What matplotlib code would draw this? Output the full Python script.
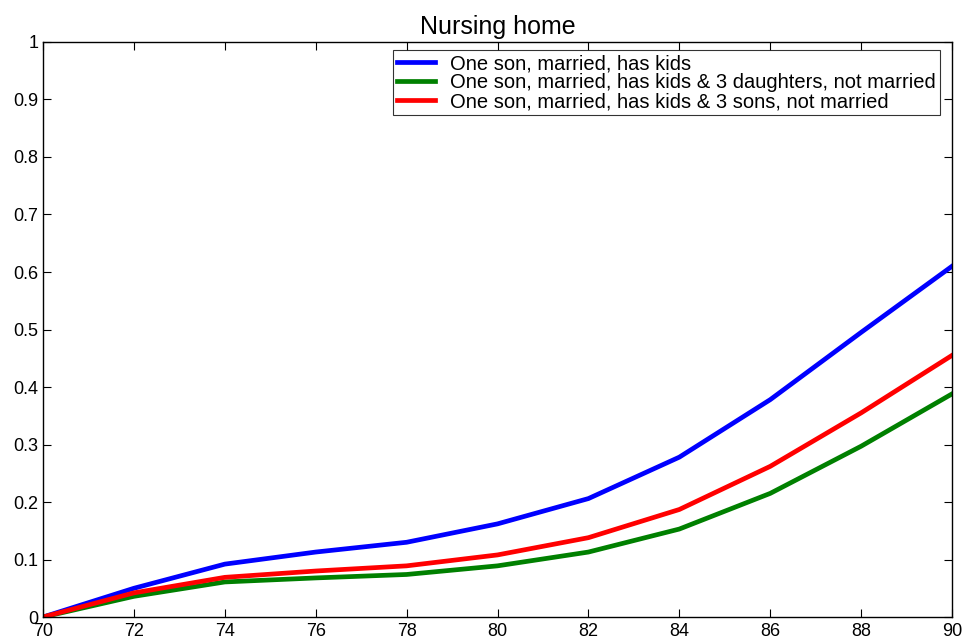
import matplotlib
matplotlib.use("Agg")
import matplotlib.pyplot as plt

plt.rcParams["font.family"] = ["Liberation Sans", "DejaVu Sans"]

ages = [70, 72, 74, 76, 78, 80, 82, 84, 86, 88, 90]
son_kids = [0, 0.050, 0.092, 0.113, 0.130, 0.162, 0.206, 0.278, 0.378, 0.495, 0.610]
daughters = [0, 0.036, 0.061, 0.068, 0.074, 0.089, 0.113, 0.153, 0.215, 0.297, 0.388]
sons = [0, 0.042, 0.069, 0.080, 0.089, 0.108, 0.138, 0.187, 0.262, 0.355, 0.455]
labels = [
    "One son, married, has kids",
    "One son, married, has kids & 3 daughters, not married",
    "One son, married, has kids & 3 sons, not married",
]
ytick_labels = ["0", "0.1", "0.2", "0.3", "0.4", "0.5", "0.6", "0.7", "0.8", "0.9", "1"]

fig = plt.figure(figsize=(9.67, 6.41), dpi=100)
ax = fig.add_axes([0.0445, 0.0374, 0.94, 0.8971])

ax.plot(ages, son_kids, color="#0000ff", lw=3.4, label=labels[0])
ax.plot(ages, daughters, color="#008000", lw=3.4, label=labels[1])
ax.plot(ages, sons, color="#ff0000", lw=3.4, label=labels[2])

ax.set_xlim(70, 90)
ax.set_ylim(0, 1)
ax.set_xticks(range(70, 91, 2))
ax.set_yticks([i / 10 for i in range(11)])
ax.set_yticklabels(ytick_labels)
ax.tick_params(direction="in", top=True, right=True, labelsize=13, length=6, width=0.8)
ax.tick_params(axis="x", pad=4)
for s in ax.spines.values():
    s.set_linewidth(1.0)

ax.set_title("Nursing home", fontsize=18, pad=6)

leg = ax.legend(loc="upper right", bbox_to_anchor=(0.9868, 0.986), fontsize=14.5,
                frameon=True, fancybox=False, edgecolor="black", handlelength=1.9,
                borderpad=0.2, labelspacing=0.0, handletextpad=0.75, borderaxespad=0)
leg.get_frame().set_linewidth(0.8)

fig.savefig("out.png", dpi=100)
